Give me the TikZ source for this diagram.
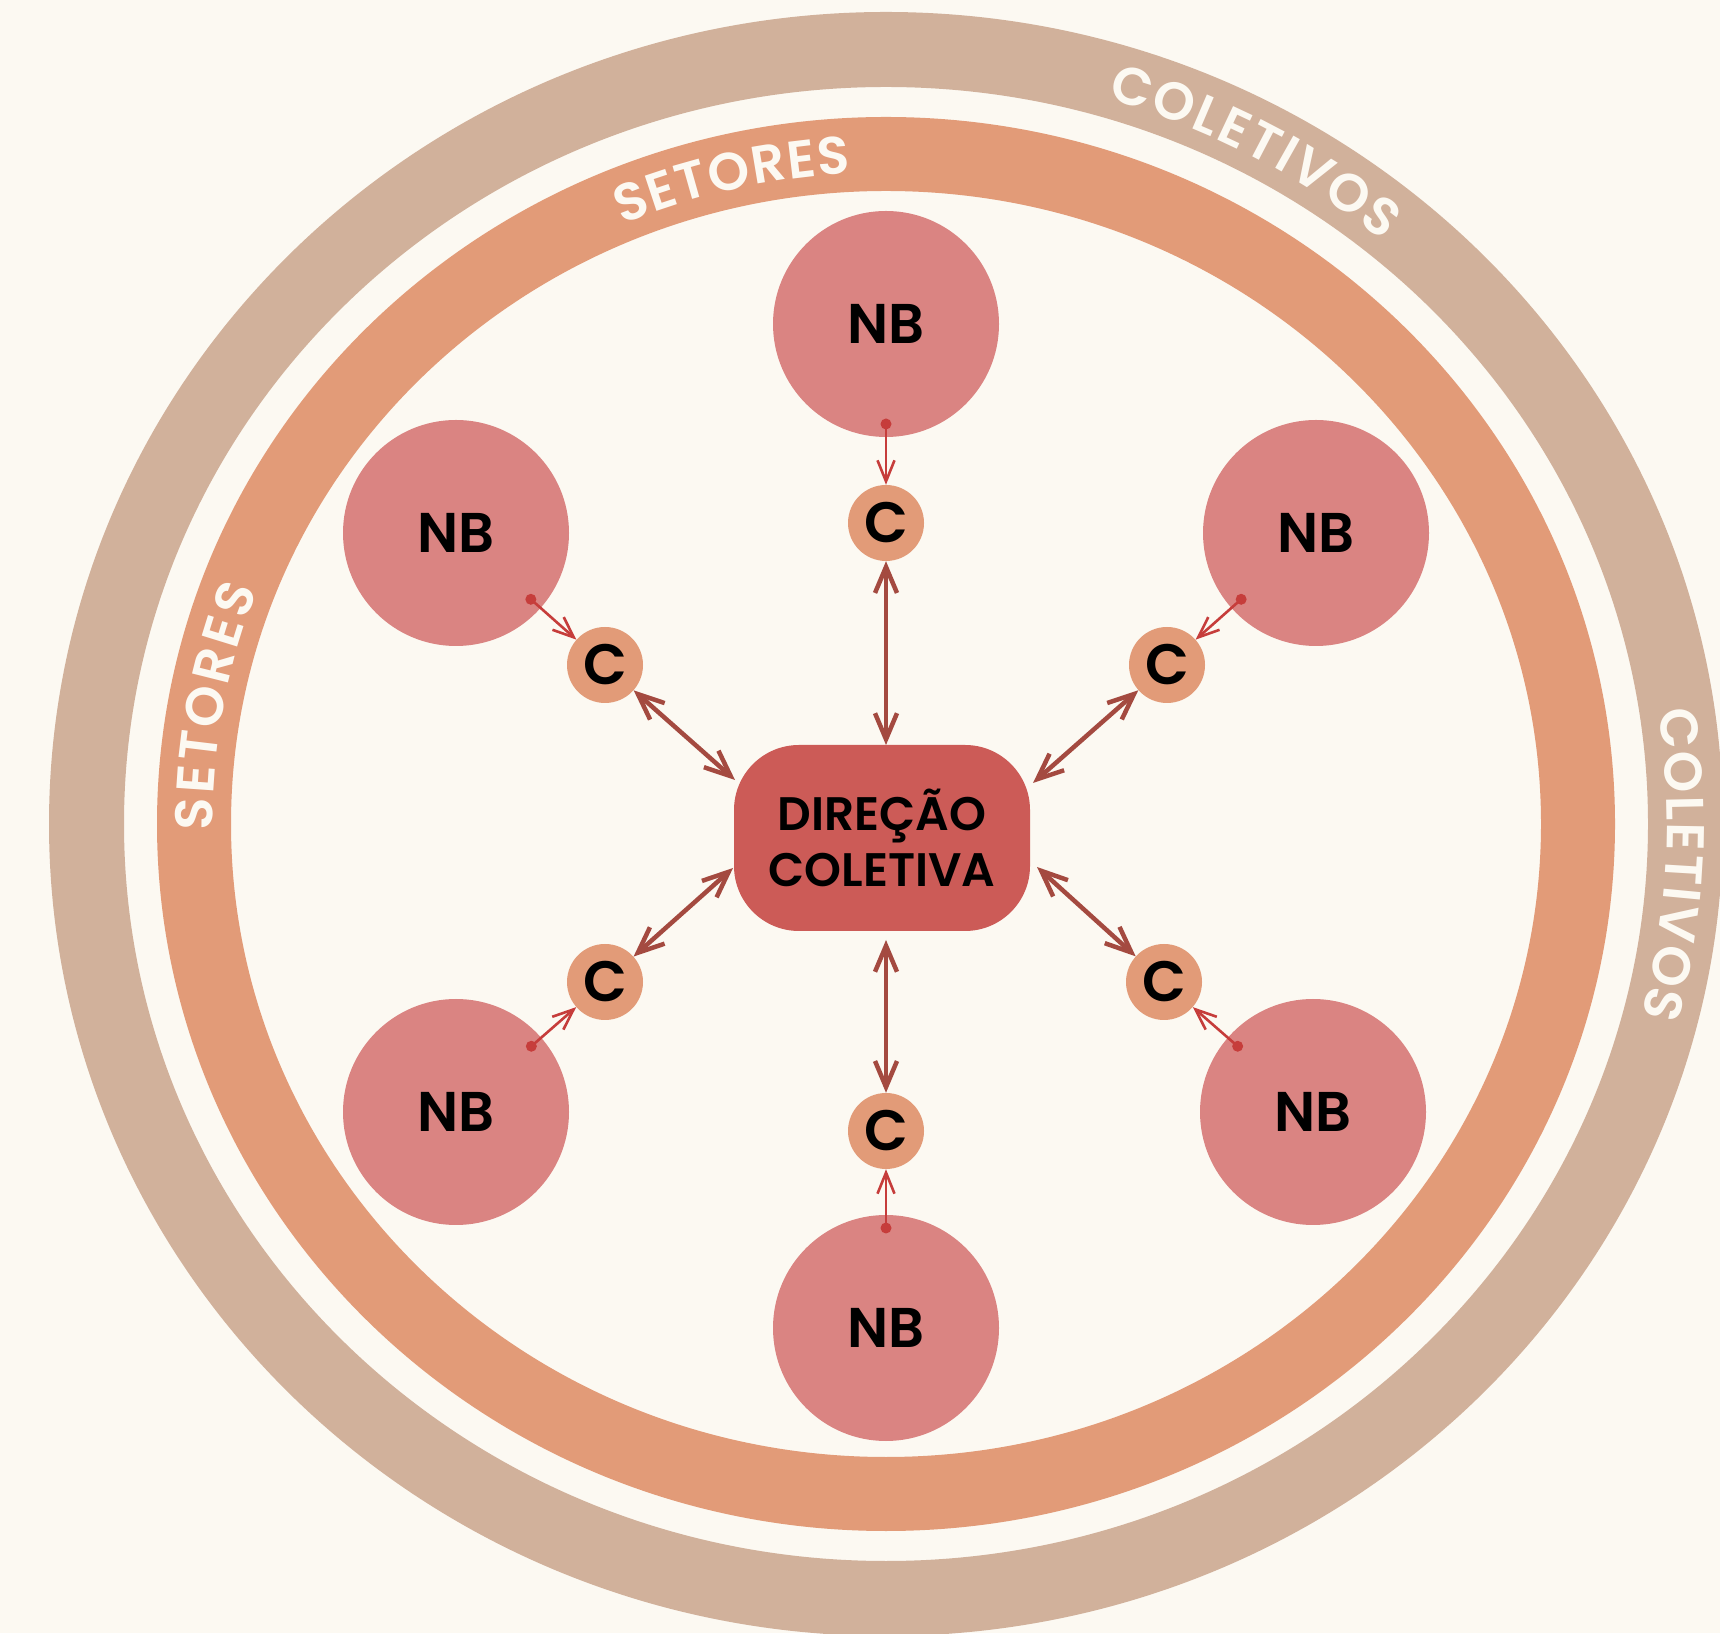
\documentclass[tikz,border=0pt]{standalone}
\usepackage{fontspec}
\setmainfont{Poppins}
\newfontfamily\semib{Poppins SemiBold}
\usetikzlibrary{arrows.meta,decorations.text,calc}
\definecolor{bg}{HTML}{FCF9F2}
\definecolor{tanring}{HTML}{D1B19B}
\definecolor{orng}{HTML}{E29B78}
\definecolor{nbpink}{HTML}{DA8482}
\definecolor{boxred}{HTML}{CC5B57}
\definecolor{darr}{HTML}{A44A40}
\definecolor{rarr}{HTML}{C63D3B}
\definecolor{cream}{HTML}{FCF9F2}
\begin{document}
\begin{tikzpicture}[x=1pt,y=1pt,
 nbnode/.style={circle, fill=nbpink, minimum size=226pt, inner sep=0pt, font=\semib\fontsize{56}{56}\selectfont},
 cnode/.style={circle, fill=orng, minimum size=76pt, inner sep=0pt, font=\semib\fontsize{57}{57}\selectfont},
 dirbox/.style={rectangle, rounded corners=65pt, fill=boxred, minimum width=296pt, minimum height=186pt, align=center, inner sep=0pt, font=\semib\fontsize{47}{56}\selectfont},
 thinarr/.style={draw=rarr, line width=2.6pt, -{Straight Barb[length=21pt,width=17pt]}},
 thickarr/.style={draw=darr, line width=4.5pt, {Straight Barb[length=26pt,width=22pt]}-{Straight Barb[length=26pt,width=22pt]}},
 dotmark/.style={circle, fill=rarr, minimum size=11pt, inner sep=0pt},
 ringlabel/.style={decorate, decoration={text along path, text align=fit to path, raise=-18.5pt, text color=cream, text={|\semib\fontsize{53}{53}\selectfont\color{cream}|#1}}}
]
\useasboundingbox (0,0) rectangle (1720,1633);
\clip (0,0) rectangle (1720,1633);
\fill[bg] (0,0) rectangle (1720,1633);
\coordinate (O) at (886,809);
% rings
\draw[tanring, line width=75pt] (O) ellipse [x radius=799.5, y radius=774.5];
\draw[orng, line width=74pt] (O) ellipse [x radius=692, y radius=670];
% ring labels
\path[ringlabel=SETORES] ($(O)+(113:692 and 670)$) arc[start angle=113, end angle=93, x radius=692, y radius=670];
\path[ringlabel=SETORES] ($(O)+(180.5:692 and 670)$) arc[start angle=180.5, end angle=159, x radius=692, y radius=670];
\path[ringlabel=COLETIVOS] ($(O)+(73.5:799.5 and 774.5)$) arc[start angle=73.5, end angle=50.5, x radius=799.5, y radius=774.5];
\path[ringlabel=COLETIVOS] ($(O)+(8.6:799.5 and 774.5)$) arc[start angle=8.6, end angle=-14.7, x radius=799.5, y radius=774.5];
% nodes
\node[dirbox] (dir) at (882,795) {DIREÇÃO\\COLETIVA};
\node[nbnode] (nbT) at (886,1309) {NB};
\node[nbnode] (nbLT) at (456,1100) {NB};
\node[nbnode] (nbRT) at (1316,1100) {NB};
\node[nbnode] (nbLB) at (456,521) {NB};
\node[nbnode] (nbRB) at (1313,521) {NB};
\node[nbnode] (nbB) at (886,305) {NB};
\node[cnode] (cT) at (886,1110) {C};
\node[cnode] (cLT) at (605,968) {C};
\node[cnode] (cRT) at (1167,968) {C};
\node[cnode] (cLB) at (605,651) {C};
\node[cnode] (cRB) at (1164,651) {C};
\node[cnode] (cB) at (886,502) {C};
% end points on the box
\coordinate (pT) at (886,888);
\coordinate (pB) at (886,693);
\coordinate (pLT) at (735,853);
\coordinate (pLB) at (733,765);
\coordinate (pRT) at (1033,850);
\coordinate (pRB) at (1037,766);
% thick arrows
\draw[thickarr] (cT) -- (pT);
\draw[thickarr] (cB) -- (pB);
\draw[thickarr] (cLT) -- (pLT);
\draw[thickarr] (cLB) -- (pLB);
\draw[thickarr] (cRT) -- (pRT);
\draw[thickarr] (cRB) -- (pRB);
% dots
\node[dotmark] (dT) at ($(nbT)!100pt!(cT)$) {};
\node[dotmark] (dB) at ($(nbB)!100pt!(cB)$) {};
\node[dotmark] (dLT) at ($(nbLT)!100pt!(cLT)$) {};
\node[dotmark] (dLB) at ($(nbLB)!100pt!(cLB)$) {};
\node[dotmark] (dRT) at ($(nbRT)!100pt!(cRT)$) {};
\node[dotmark] (dRB) at ($(nbRB)!100pt!(cRB)$) {};
% thin arrows
\draw[thinarr] (dT.center) -- (cT);
\draw[thinarr] (dB.center) -- (cB);
\draw[thinarr] (dLT.center) -- (cLT);
\draw[thinarr] (dLB.center) -- (cLB);
\draw[thinarr] (dRT.center) -- (cRT);
\draw[thinarr] (dRB.center) -- (cRB);
\end{tikzpicture}
\end{document}
